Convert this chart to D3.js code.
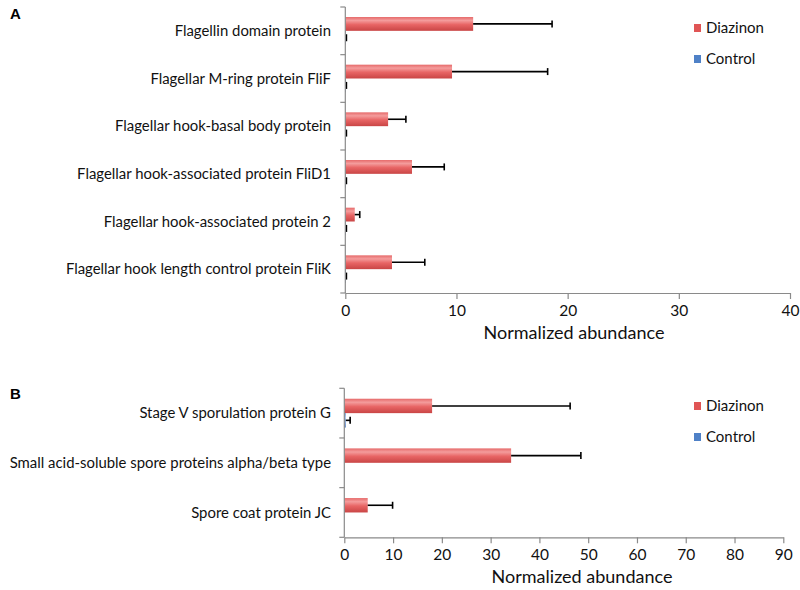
<!DOCTYPE html>
<html>
<head>
<meta charset="utf-8">
<script src="https://cdn.jsdelivr.net/npm/d3@7"></script>
<style>
  body { margin: 0; background: #fff; }
  svg { display: block; font-family: Lato, "Open Sans", sans-serif; }
</style>
</head>
<body>
<svg id="chart" width="800" height="590"></svg>
<script>
// Panel A data
const catsA = [
  'Flagellin domain protein',
  'Flagellar M-ring protein FliF',
  'Flagellar hook-basal body protein',
  'Flagellar hook-associated protein FliD1',
  'Flagellar hook-associated protein 2',
  'Flagellar hook length control protein FliK'
];
const diazinonA = [11.5, 9.6, 3.85, 6.0, 0.85, 4.2];
const diazinonErrA = [7.1, 8.6, 1.6, 2.9, 0.45, 2.95];
const controlA = [0.05, 0.05, 0.05, 0.05, 0.05, 0.05];
const controlErrA = [0.05, 0.05, 0.05, 0.05, 0.05, 0.05];
const ticksA = [0, 10, 20, 30, 40];

// Panel B data
const catsB = [
  'Stage V sporulation protein G',
  'Small acid-soluble spore proteins alpha/beta type',
  'Spore coat protein JC'
];
const diazinonB = [18, 34.2, 4.8];
const diazinonErrB = [28.3, 14.3, 5.1];
const controlB = [0.3, 0, 0];
const controlErrB = [0.9, 0, 0];
const ticksB = [0, 10, 20, 30, 40, 50, 60, 70, 80, 90];

const seriesNames = ['Diazinon', 'Control'];

const svg = d3.select('#chart');

// gradients like the old office bar style
const defs = svg.append('defs');
function grad(id, stops) {
  const g = defs.append('linearGradient').attr('id', id)
    .attr('x1', 0).attr('y1', 0).attr('x2', 0).attr('y2', 1);
  stops.forEach(([o, c]) => g.append('stop').attr('offset', o).attr('stop-color', c));
}
grad('gRed', [[0, '#e66a6a'], [0.25, '#f49c9c'], [0.55, '#e86565'], [1, '#c94545']]);
grad('gBlue', [[0, '#5b8bd0'], [0.3, '#93b6e8'], [1, '#3f6fb8']]);
const fills = {Diazinon: 'url(#gRed)', Control: 'url(#gBlue)'};
const legendFills = {Diazinon: '#e05555', Control: '#4f81c7'};

function drawPanel(opt) {
  const {cats, diaz, diazErr, ctrl, ctrlErr, ticks, x0, x1, y0, y1, letter, letterY, legendX, legendY, titleX} = opt;
  const g = svg.append('g');

  const x = d3.scaleLinear().domain([ticks[0], ticks[ticks.length - 1]]).range([x0, x1]);
  const y = d3.scaleBand().domain(cats).range([y0, y1]).paddingInner(0).paddingOuter(0);
  // two bars per category, thickness
  const inner = d3.scaleBand().domain(seriesNames)
    .range([y.bandwidth() * 0.21, y.bandwidth() * 0.79]).paddingInner(0).paddingOuter(0);

  const rows = cats.map((c, i) => ({c, vals: [
    {s: 'Diazinon', v: diaz[i], e: diazErr[i]},
    {s: 'Control', v: ctrl[i], e: ctrlErr[i]}
  ]}));

  const rowG = g.selectAll('g.row').data(rows).join('g')
    .attr('transform', d => `translate(0,${y(d.c)})`);

  rowG.selectAll('rect').data(d => d.vals).join('rect')
    .attr('x', x(0))
    .attr('y', d => inner(d.s))
    .attr('width', d => Math.max(0, x(d.v) - x(0)))
    .attr('height', inner.bandwidth())
    .attr('fill', d => fills[d.s]);

  // error bars (plus side only)
  const eb = rowG.selectAll('g.err').data(d => d.vals.filter(v => v.e > 0)).join('g')
    .attr('class', 'err');
  eb.append('line')
    .attr('x1', d => x(d.v)).attr('x2', d => x(d.v + d.e))
    .attr('y1', d => inner(d.s) + inner.bandwidth() / 2)
    .attr('y2', d => inner(d.s) + inner.bandwidth() / 2)
    .attr('stroke', '#000').attr('stroke-width', 1.6);
  eb.append('line')
    .attr('x1', d => x(d.v + d.e)).attr('x2', d => x(d.v + d.e))
    .attr('y1', d => inner(d.s) + inner.bandwidth() / 2 - 3.5)
    .attr('y2', d => inner(d.s) + inner.bandwidth() / 2 + 3.5)
    .attr('stroke', '#000').attr('stroke-width', 1.6);

  // y axis with ticks on band edges
  const edges = cats.map(c => y(c)).concat([y1]);
  g.append('line').attr('x1', x0).attr('x2', x0).attr('y1', y0).attr('y2', y1)
    .attr('stroke', '#8a8a8a').attr('stroke-width', 1.2);
  g.selectAll('line.ytick').data(edges).join('line').attr('class', 'ytick')
    .attr('x1', x0 - 5).attr('x2', x0).attr('y1', d => d).attr('y2', d => d)
    .attr('stroke', '#8a8a8a').attr('stroke-width', 1.2);
  g.selectAll('text.cat').data(cats).join('text').attr('class', 'cat')
    .attr('x', 331)
    .attr('y', d => y(d) + y.bandwidth() / 2)
    .attr('dy', '0.35em')
    .attr('text-anchor', 'end')
    .attr('font-size', 14.9)
    .attr('fill', '#111')
    .text(d => d);

  // x axis
  const ax = g.append('g').attr('transform', `translate(0,${y1})`)
    .call(d3.axisBottom(x).tickValues(ticks).tickSize(6).tickSizeOuter(0).tickPadding(6));
  ax.select('.domain').attr('stroke', '#8a8a8a').attr('stroke-width', 1.2);
  ax.selectAll('.tick line').attr('stroke', '#8a8a8a').attr('stroke-width', 1.2);
  ax.selectAll('.tick text').attr('font-size', 15.5).attr('fill', '#111')
    .attr('font-family', 'Lato, "Open Sans", sans-serif');

  g.append('text')
    .attr('x', titleX).attr('y', y1 + 46)
    .attr('text-anchor', 'middle').attr('font-size', 18).attr('fill', '#111')
    .text('Normalized abundance');

  g.append('text').attr('x', 10).attr('y', letterY)
    .attr('font-family', 'Arial, "Liberation Sans", sans-serif')
    .attr('font-weight', 'bold').attr('font-size', 15).text(letter);

  // legend
  const lg = g.selectAll('g.leg').data(seriesNames).join('g').attr('class', 'leg')
    .attr('transform', (d, i) => `translate(${legendX},${legendY + i * 31})`);
  lg.append('rect').attr('x', 0).attr('y', -4).attr('width', 7).attr('height', 8)
    .attr('fill', d => legendFills[d]);
  lg.append('text').attr('x', 12).attr('y', 0).attr('dy', '0.35em')
    .attr('font-size', 15).attr('fill', '#111').text(d => d);
}

drawPanel({cats: catsA, diaz: diazinonA, diazErr: diazinonErrA, ctrl: controlA, ctrlErr: controlErrA,
  ticks: ticksA, x0: 345.3, x1: 790, y0: 7, y1: 293, letter: 'A', letterY: 19, legendX: 694, legendY: 28, titleX: 574});
drawPanel({cats: catsB, diaz: diazinonB, diazErr: diazinonErrB, ctrl: controlB, ctrlErr: controlErrB,
  ticks: ticksB, x0: 344.3, x1: 783.3, y0: 388.3, y1: 537.3, letter: 'B', letterY: 399, legendX: 694, legendY: 406, titleX: 582});
</script>
</body>
</html>
